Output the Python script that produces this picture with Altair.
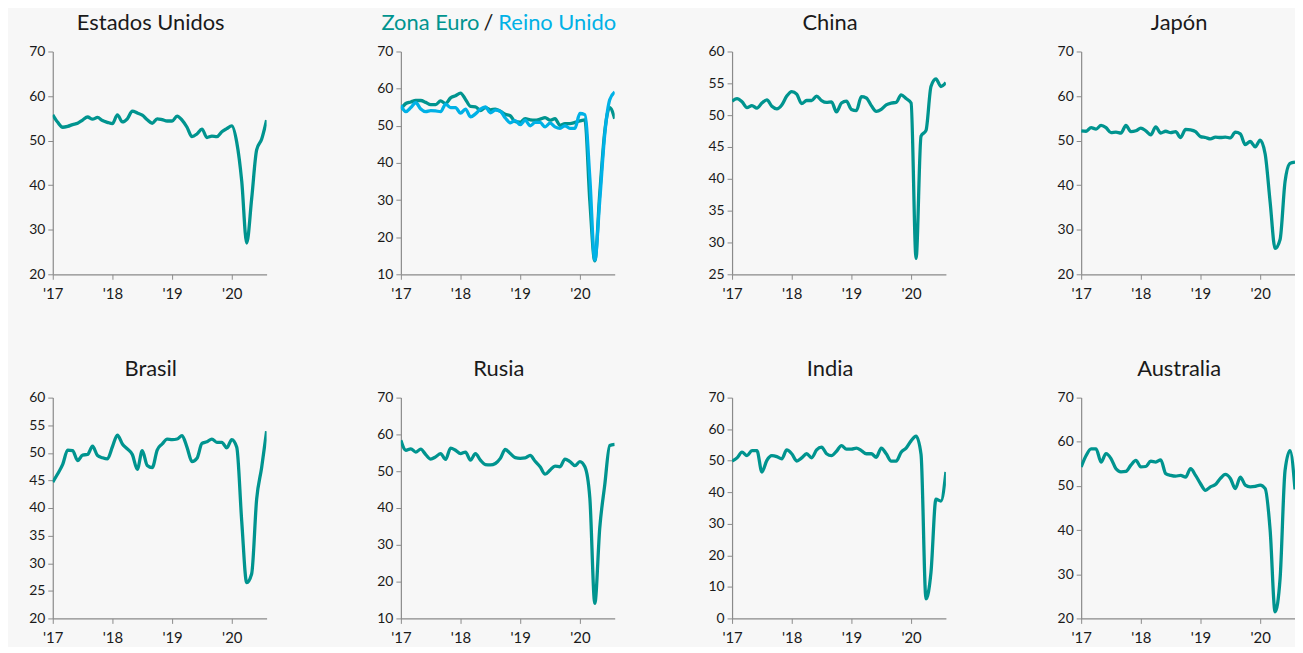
import json
import altair as alt
import pandas as pd

# ---------------- data (composite PMI, Jan-2017 .. Aug-2020, monthly) ----------------
YEAR_LABELS = ["'17", "'18", "'19", "'20"]
YEAR_TICKS = [0, 12, 24, 36]

TITLE_US = "Estados Unidos"
TITLE_EZ = "Zona Euro"
TITLE_SEP = "/"
TITLE_UK = "Reino Unido"
TITLE_CN = "China"
TITLE_JP = "Japón"
TITLE_BR = "Brasil"
TITLE_RU = "Rusia"
TITLE_IN = "India"
TITLE_AU = "Australia"

us = [55.8, 54.1, 53.0, 53.2, 53.6, 53.9, 54.6, 55.3, 54.8, 55.2, 54.5, 54.1,
      53.8, 55.8, 54.2, 54.9, 56.6, 56.2, 55.7, 54.7, 53.9, 54.9, 54.7, 54.4,
      54.4, 55.5, 54.6, 53.0, 50.9, 51.5, 52.6, 50.7, 51.0, 50.9, 52.0, 52.7,
      53.3, 49.6, 40.9, 27.0, 37.0, 47.9, 50.3, 54.6]

ez = [54.4, 56.0, 56.4, 56.8, 56.8, 56.3, 55.7, 55.7, 56.7, 56.0, 57.5, 58.1,
      58.8, 57.1, 55.2, 55.1, 54.1, 54.9, 54.3, 54.5, 53.9, 53.1, 52.7, 51.1,
      51.0, 51.9, 51.6, 51.5, 51.8, 52.2, 51.5, 51.9, 50.1, 50.6, 50.6, 50.9,
      51.3, 51.6, 29.7, 13.6, 31.9, 48.5, 54.9, 51.9]

uk = [55.5, 53.8, 54.9, 56.2, 54.5, 53.8, 54.1, 54.0, 53.8, 55.8, 54.9, 54.9,
      53.4, 54.5, 52.4, 53.2, 54.5, 55.1, 53.5, 54.2, 53.9, 52.1, 50.8, 51.4,
      50.3, 51.5, 50.0, 50.9, 50.9, 49.7, 50.7, 49.7, 49.3, 50.0, 49.3, 49.3,
      53.3, 53.0, 36.0, 13.8, 30.0, 47.7, 57.0, 59.1]

cn = [52.2, 52.6, 52.1, 51.2, 51.5, 51.1, 51.9, 52.4, 51.4, 51.0, 51.6, 53.0,
      53.7, 53.3, 51.8, 52.3, 52.3, 53.0, 52.3, 52.0, 52.1, 50.5, 51.9, 52.2,
      50.9, 50.7, 52.9, 52.7, 51.5, 50.6, 50.9, 51.6, 51.9, 52.0, 53.2, 52.6,
      51.9, 27.5, 46.7, 47.6, 54.5, 55.7, 54.5, 55.1]

jp = [52.2, 52.1, 52.9, 52.6, 53.4, 52.9, 51.8, 51.9, 51.7, 53.4, 52.0, 52.2,
      52.8, 52.2, 51.3, 53.1, 51.7, 52.1, 51.8, 52.0, 50.7, 52.5, 52.4, 52.0,
      50.9, 50.7, 50.4, 50.8, 50.7, 50.8, 50.6, 51.9, 51.5, 49.1, 49.8, 48.6,
      50.1, 47.0, 36.2, 25.8, 27.8, 40.8, 44.9, 45.2]

br = [44.7, 46.2, 47.9, 50.5, 50.4, 48.6, 49.6, 49.7, 51.2, 49.5, 49.1, 48.9,
      51.1, 53.2, 51.6, 50.7, 49.7, 47.0, 50.4, 47.7, 47.3, 50.5, 51.6, 52.5,
      52.4, 52.5, 53.1, 51.0, 48.4, 49.0, 51.7, 52.0, 52.5, 51.9, 51.9, 50.9,
      52.4, 51.0, 37.6, 26.5, 28.1, 41.6, 47.3, 53.9]

ru = [58.4, 55.7, 56.1, 55.2, 56.0, 54.5, 53.3, 53.9, 54.8, 53.2, 56.3, 55.7,
      54.8, 55.2, 53.0, 54.8, 53.0, 51.8, 51.7, 52.1, 53.5, 55.9, 54.8, 53.7,
      53.5, 53.6, 54.3, 52.7, 51.2, 49.2, 50.3, 51.4, 51.2, 53.3, 52.6, 51.5,
      52.6, 51.2, 42.7, 14.1, 34.7, 46.3, 57.0, 57.3]

ind = [49.9, 50.9, 52.7, 51.6, 53.2, 53.2, 46.4, 50.1, 51.6, 51.3, 50.6, 53.4,
       52.2, 49.9, 50.9, 52.2, 50.9, 53.4, 54.3, 52.2, 51.6, 53.0, 54.8, 53.7,
       53.7, 54.0, 53.2, 52.2, 52.2, 51.1, 54.0, 52.2, 49.9, 49.9, 52.7, 54.0,
       56.3, 57.8, 52.0, 6.2, 14.6, 37.8, 37.2, 46.4]

au = [54.3, 56.9, 58.4, 58.4, 55.4, 57.3, 56.2, 53.9, 53.2, 53.3, 54.7, 55.8,
      54.3, 54.4, 55.6, 55.4, 55.9, 52.8, 52.4, 52.2, 52.4, 52.0, 53.9, 52.4,
      50.5, 49.0, 49.8, 50.3, 51.7, 52.6, 51.7, 49.4, 52.0, 50.2, 49.8, 49.9,
      50.2, 49.4, 40.0, 21.5, 29.0, 53.5, 58.0, 49.2]

# ---------------- styling ----------------
TEAL = "#00948f"
BLUE = "#00b1e6"
INK = "#1a1a1a"
FONT = "Lato"
W = 215
H1, H2 = 224, 222
COL_SPACING = 40
GAPS = [135, 118, 136]  # distance between neighbouring plot areas
TITLE_SIZE = 22
TITLE_Y = -22

x_axis = alt.Axis(values=YEAR_TICKS, labelExpr=json.dumps(YEAR_LABELS) + "[datum.value / 12]",
                  title=None, grid=False, labelFontSize=15, labelPadding=7, tickSize=5,
                  labelFlush=False)


def line(values, lo, hi, step, color):
    df = pd.DataFrame({"m": list(range(len(values))), "v": values})
    return alt.Chart(df).mark_line(color=color, strokeWidth=3.3, interpolate="monotone", clip=True).encode(
        x=alt.X("m:Q", scale=alt.Scale(domain=[0, len(values) - 1], nice=False, zero=False), axis=x_axis),
        y=alt.Y("v:Q", scale=alt.Scale(domain=[lo, hi], nice=False, zero=False),
                axis=alt.Axis(values=list(range(lo, hi + 1, step)), title=None, grid=False,
                              labelFontSize=14, tickSize=5, labelPadding=3)),
    )


def text_mark(txt, color, xpos, align):
    return alt.Chart(pd.DataFrame({"t": [txt]})).mark_text(
        font=FONT, fontSize=TITLE_SIZE, color=color, align=align, baseline="alphabetic"
    ).encode(text="t:N", x=alt.value(xpos), y=alt.value(TITLE_Y))


def panel(values, name, lo, hi, step, h):
    return alt.layer(
        line(values, lo, hi, step, TEAL),
        text_mark(name, INK, W / 2 - 9, "center"),
    ).properties(width=W, height=h)


def spacer(w, h):
    return alt.Chart(pd.DataFrame({"t": [""]})).mark_text(opacity=0).encode(
        text="t:N", x=alt.value(0), y=alt.value(0)
    ).properties(width=w, height=h)


p_us = panel(us, TITLE_US, 20, 70, 10, H1)
p_ez = alt.layer(
    line(ez, 10, 70, 10, TEAL),
    line(uk, 10, 70, 10, BLUE),
    text_mark(TITLE_EZ, TEAL, 79, "right"),
    text_mark(TITLE_SEP, INK, 88, "center"),
    text_mark(TITLE_UK, BLUE, 98, "left"),
).properties(width=W, height=H1)
p_cn = panel(cn, TITLE_CN, 25, 60, 5, H1)
p_jp = panel(jp, TITLE_JP, 20, 70, 10, H1)

p_br = panel(br, TITLE_BR, 20, 60, 5, H2)
p_ru = panel(ru, TITLE_RU, 10, 70, 10, H2)
p_in = panel(ind, TITLE_IN, 0, 70, 10, H2)
p_au = panel(au, TITLE_AU, 20, 70, 10, H2)


def row(panels, h):
    items = [panels[0]]
    for gap, p in zip(GAPS, panels[1:]):
        items.append(spacer(gap - 2 * COL_SPACING, h))
        items.append(p)
    return items


cells = row([p_us, p_ez, p_cn, p_jp], H1) + row([p_br, p_ru, p_in, p_au], H2)

chart = alt.concat(*cells, columns=7, spacing={"row": 124, "column": COL_SPACING},
                   bounds="flush", align="each").configure(
    background="#f7f7f7", font=FONT, padding={"left": 20, "top": 2, "right": 0, "bottom": 0}
).configure_view(stroke=None).configure_axis(
    domainColor="#8a8a8a", tickColor="#8a8a8a", labelColor=INK, labelFont=FONT, domainWidth=1.2
)

chart.save("out.html", embed_options={"renderer": "svg", "actions": False})
